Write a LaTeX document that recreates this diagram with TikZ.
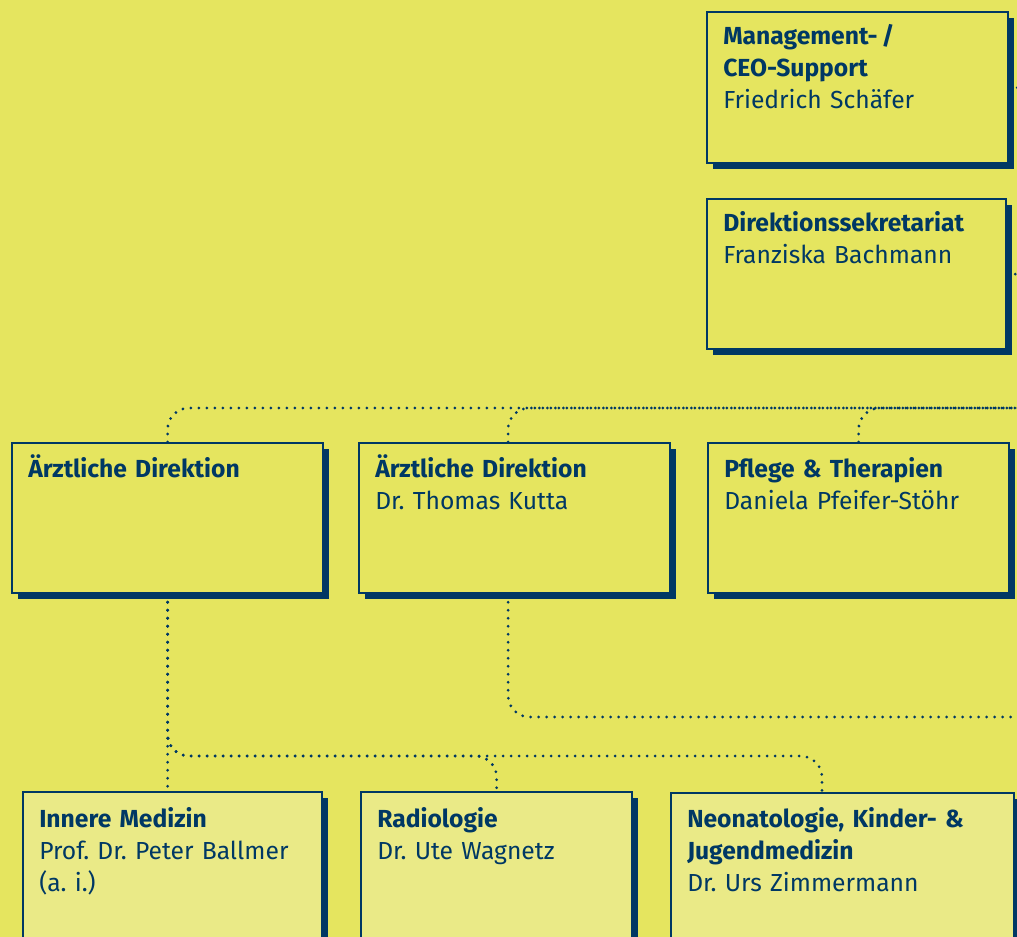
\documentclass[tikz,border=0pt]{standalone}
\usepackage{fontspec}
\setmainfont{Fira Sans}
\usetikzlibrary{shadows,backgrounds}
\definecolor{navy}{RGB}{0,56,100}
\definecolor{bgyellow}{RGB}{229,229,95}
\definecolor{paleyellow}{RGB}{234,234,135}
\frenchspacing
\begin{document}
\begin{tikzpicture}[x=0.75pt,y=-0.75pt,
    boxsize/.style 2 args={minimum width=#1*0.75pt,minimum height=#2*0.75pt},
    orgbox/.style={draw=navy,line width=1.7pt,fill=bgyellow,anchor=north west,inner sep=0pt,
        drop shadow={shadow xshift=4.5pt,shadow yshift=-4.5pt,fill=navy,opacity=1}},
    unitbox/.style={orgbox,fill=paleyellow},
    boxtext/.style={anchor=base west,inner sep=0pt,text width=250pt,align=left,text=navy,
        font=\fontsize{18.5}{24}\selectfont},
    dotline/.style={navy,line width=2.3pt,line cap=round,dash pattern=on 0pt off 6pt,rounded corners=16pt}]
    \useasboundingbox (0,0) rectangle (1017,937);
    \clip (0,0) rectangle (1017,937);

    \node[orgbox,boxsize={301}{151}] (mgmt) at (706,11) {};
    \node[orgbox,boxsize={299}{150}] (sekr) at (706,198) {};
    \node[orgbox,boxsize={311}{150}] (ad1) at (11,442) {};
    \node[orgbox,boxsize={311}{150}] (ad2) at (358,442) {};
    \node[orgbox,boxsize={301}{150}] (pflege) at (707,442) {};
    \node[unitbox,boxsize={299}{170}] (inner) at (22,791) {};
    \node[unitbox,boxsize={271}{170}] (radio) at (360,791) {};
    \node[unitbox,boxsize={343}{170}] (neo) at (670,792) {};

    \node[boxtext] (mgmt-t) at ([shift={(17,34)}]mgmt.north west)
        {\textbf{Management-\,/}\\\textbf{CEO-Support}\\Friedrich Schäfer};
    \node[boxtext] (sekr-t) at ([shift={(17,34)}]sekr.north west)
        {\textbf{Direktionssekretariat}\\Franziska Bachmann};
    \node[boxtext] (ad1-t) at ([shift={(17,36)}]ad1.north west)
        {\textbf{Ärztliche Direktion}};
    \node[boxtext] (ad2-t) at ([shift={(17,36)}]ad2.north west)
        {\textbf{Ärztliche Direktion}\\Dr. Thomas Kutta};
    \node[boxtext] (pflege-t) at ([shift={(17,36)}]pflege.north west)
        {\textbf{Pflege \& Therapien}\\Daniela Pfeifer-Stöhr};
    \node[boxtext] (inner-t) at ([shift={(17,36)}]inner.north west)
        {\textbf{Innere Medizin}\\Prof. Dr. Peter Ballmer\\(a. i.)};
    \node[boxtext] (radio-t) at ([shift={(17,36)}]radio.north west)
        {\textbf{Radiologie}\\Dr. Ute Wagnetz};
    \node[boxtext] (neo-t) at ([shift={(17,35)}]neo.north west)
        {\textbf{Neonatologie, Kinder- \&}\\\textbf{Jugendmedizin}\\Dr. Urs Zimmermann};

    \coordinate (topbus) at (1030,408);
    \coordinate (midbus) at (1030,717);
    \coordinate (lowbus) at (0,756);
    \coordinate (ad2-up) at ([xshift=-4.9pt]ad2.north);
    \coordinate (ad2-down) at ([xshift=-4.9pt]ad2.south);
    \coordinate (neo-in) at ([xshift=114pt]neo.north west);

    \begin{scope}[on background layer]
        \fill[bgyellow] (0,0) rectangle (1017,937);
        \draw[dotline] (mgmt.east) -- ++(30,0);
        \draw[dotline] (sekr.east) -- ++(30,0);
        \draw[dotline] (ad1.north) |- (topbus);
        \draw[dotline] (ad2-up) |- (topbus);
        \draw[dotline] (pflege.north) |- (topbus);
        \draw[dotline] (ad2-down) |- (midbus);
        \draw[dotline] (ad1.south) -- (ad1.south |- inner.north);
        \draw[dotline] (ad1.south) -- (ad1.south |- lowbus) -- (radio.north |- lowbus) -- (radio.north);
        \draw[dotline] (ad1.south) -- (ad1.south |- lowbus) -- (neo-in |- lowbus) -- (neo-in);
    \end{scope}
\end{tikzpicture}
\end{document}
